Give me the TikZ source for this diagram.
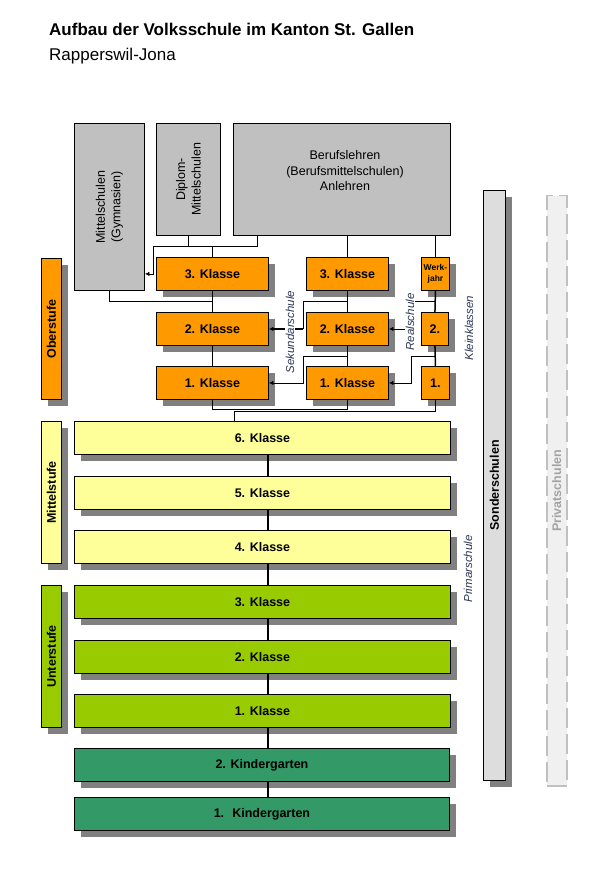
\documentclass[tikz,border=0pt]{standalone}
\usepackage{fontspec}
\setmainfont{Liberation Sans}
\usetikzlibrary{shadows,arrows.meta,calc}
\definecolor{grau}{HTML}{C0C0C0}
\definecolor{hellgrau}{HTML}{DDDDDD}
\definecolor{privatgrau}{HTML}{F0F0F0}
\definecolor{schatten}{HTML}{808080}
\definecolor{oberfarbe}{HTML}{FF9900}
\definecolor{mittelfarbe}{HTML}{FFFF99}
\definecolor{unterfarbe}{HTML}{99CC00}
\definecolor{kigafarbe}{HTML}{339966}
\definecolor{schulfarbe}{RGB}{45,55,85}

\begin{document}
\begin{tikzpicture}[x=1pt,y=-1pt,
    kasten/.style={draw, line width=0.9pt, inner sep=0pt, anchor=north west},
    schattiert/.style={drop shadow={shadow xshift=7pt,shadow yshift=-7pt,fill=schatten,opacity=1}},
    klasse/.style={kasten, schattiert, minimum height=33pt, font=\fontsize{12.5}{15}\selectfont\bfseries},
    stufe/.style={kasten, schattiert, minimum width=20pt},
    schrift/.style={align=center, inner sep=0pt, font=\fontsize{12.5}{15.5}\selectfont},
    fett/.style={inner sep=0pt, font=\fontsize{12.5}{15}\selectfont\bfseries},
    schule/.style={rotate=90, inner sep=1pt, text=schulfarbe, font=\itshape\fontsize{11.5}{13}\selectfont},
    verbind/.style={line width=1.5pt},
    duenn/.style={line width=0.8pt},
    dick/.style={line width=2.5pt},
    pfeil/.style={-{Latex[length=4.5pt,width=4.5pt]}}]
    \useasboundingbox (0,0) rectangle (592,874);

    \node[anchor=base west, inner sep=0pt, font=\fontsize{17}{20}\selectfont\bfseries] (titel) at (49,36) {Aufbau der Volksschule im Kanton St. Gallen};
    \node[anchor=base west, inner sep=0pt, font=\fontsize{17}{20}\selectfont] (ort) at (49,61) {Rapperswil-Jona};

    % weiterfuehrende Schulen
    \node[kasten, fill=grau, minimum width=70pt, minimum height=167pt] (gym) at (74,123) {};
    \node[kasten, fill=grau, minimum width=64pt, minimum height=112pt] (dms) at (156,123) {};
    \node[kasten, fill=grau, minimum width=217pt, minimum height=112pt] (beruf) at (233,123) {};
    \node[schrift, rotate=90] (gymtext) at (gym) {Mittelschulen\\(Gymnasien)};
    \node[schrift, rotate=90] (dmstext) at (dms) {Diplom-\\Mittelschulen};
    \node[schrift] (beruftext) at (345,171) {Berufslehren\\(Berufsmittelschulen)\\Anlehren};

    % Oberstufe
    \foreach \n/\y in {3/257,2/312,1/366}{
        \node[klasse, fill=oberfarbe, minimum width=112pt] (s\n) at (156,\y) {\n. Klasse};
        \node[klasse, fill=oberfarbe, minimum width=82pt] (r\n) at (306,\y) {\n. Klasse};
    }
    \node[klasse, fill=oberfarbe, minimum width=28pt, align=center, font=\fontsize{8.5}{11}\selectfont\bfseries] (wj) at (421,257) {Werk-\\jahr};
    \node[klasse, fill=oberfarbe, minimum width=27pt] (kk2) at (421,312) {2.};
    \node[klasse, fill=oberfarbe, minimum width=28pt] (kk1) at (421,366) {1.};

    % Primarschule und Kindergarten
    \foreach \n/\y in {6/421,5/476,4/530}
        \node[klasse, fill=mittelfarbe, minimum width=376pt] (y\n) at (74,\y) {\n. Klasse};
    \foreach \n/\y in {3/585,2/640,1/694}
        \node[klasse, fill=unterfarbe, minimum width=376pt] (g\n) at (74,\y) {\n. Klasse};
    \node[klasse, fill=kigafarbe, minimum width=375pt] (kg2) at (74,748) {2. Kindergarten};
    \node[klasse, fill=kigafarbe, minimum width=375pt] (kg1) at (74,797) {1.~ Kindergarten};

    % Stufen links
    \node[stufe, fill=oberfarbe, minimum height=141pt] (oberst) at (41,258) {};
    \node[stufe, fill=mittelfarbe, minimum height=142pt] (mittelst) at (41,421) {};
    \node[stufe, fill=unterfarbe, minimum height=142pt] (unterst) at (41,585) {};
    \node[fett, rotate=90] (obertext) at (oberst) {Oberstufe};
    \node[fett, rotate=90] (mitteltext) at (mittelst) {Mittelstufe};
    \node[fett, rotate=90] (untertext) at (unterst) {Unterstufe};

    % rechts
    \node[kasten, schattiert, fill=hellgrau, minimum width=22pt, minimum height=590pt] (sonder) at (483,190) {};
    \node[fett, rotate=90] (sondertext) at (sonder) {Sonderschulen};
    \node[kasten, draw=grau, fill=privatgrau, line width=1.5pt, dash pattern=on 20pt off 6pt, minimum width=20pt, minimum height=590pt] (privat) at (546,195) {};
    \node[fett, rotate=90, text=grau!85!black] (privattext) at (privat) {Privatschulen};

    \coordinate (ax) at (268,0);
    \coordinate (ay) at (234,0);
    \coordinate (sx) at (303,0);
    \coordinate (rx) at (411,0);
    \coordinate (jd) at (153,246);
    \coordinate (jb) at (0,409);
    \coordinate (jc) at (0,411);

    \draw[verbind] (r3.north) -- (r3.north |- beruf.south);
    \draw[verbind] (wj.north) -- (wj.north |- beruf.south);
    \draw[duenn, pfeil] ([xshift=24pt]beruf.south west) |- (jd) |- (gym.east |- s3.east);
    \draw[duenn] (dms.south) -- (dms.south |- jd);
    \draw[verbind] (s3.north) -- (s3.north |- jd);
    \draw[duenn] (gym.south) |- ($(s3.south)!.5!(s2.north)$);

    \foreach \a/\b in {s3/s2,s2/s1,r3/r2,r2/r1,wj/kk2,kk2/kk1}
        \draw[verbind] (\a.south) -- (\b.north);

    \draw[duenn] ($(r3.south)!.5!(r2.north)$) -| (sx |- s2.east);
    \draw[dick, pfeil] (sx |- s2.east) -- (s2.east);
    \draw[duenn, pfeil] ($(r2.south)!.5!(r1.north)$) -| (sx |- s1.east) -- (s1.east);
    \draw[duenn, pfeil] ($(wj.south)!.5!(kk2.north)$) -| (rx |- r2.east) -- (r2.east);
    \draw[duenn, pfeil] ($(kk2.south)!.5!(kk1.north)$) -| (rx |- r1.east) -- (r1.east);

    \draw[duenn] (s1.south) |- (jb -| r1.south) -- (r1.south);
    \draw[duenn] (y6.north -| ay) |- (jc -| kk1.south) -- (kk1.south);

    \foreach \a/\b in {y6/y5,y5/y4,y4/g3,g3/g2,g2/g1,g1/kg2,kg2/kg1}
        \draw[verbind] (\a.south -| ax) -- (\b.north -| ax);

    \node[schule, fill=white] (sek) at (290,332) {Sekundarschule};
    \node[schule, fill=white] (real) at (410,322) {Realschule};
    \node[schule] (klein) at (469,328) {Kleinklassen};
    \node[schule] (prim) at (468,569) {Primarschule};
\end{tikzpicture}
\end{document}
